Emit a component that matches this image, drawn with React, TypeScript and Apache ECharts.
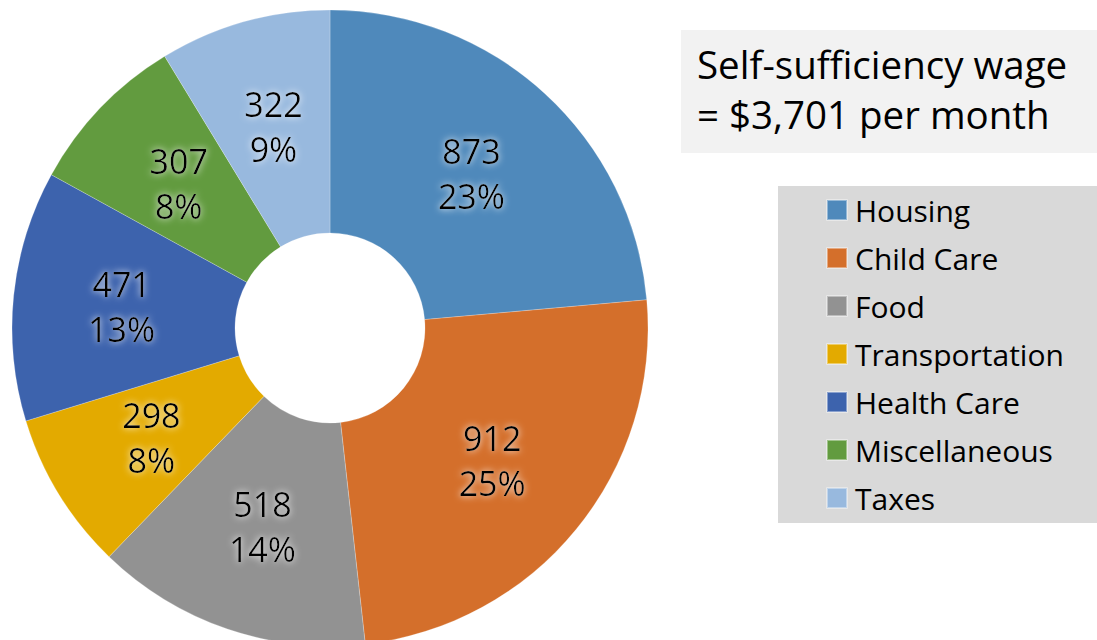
import React, { useEffect, useRef } from "react";
import * as echarts from "echarts";

const categories = ["Housing", "Child Care", "Food", "Transportation", "Health Care", "Miscellaneous", "Taxes"];
const values = [873, 912, 518, 298, 471, 307, 322];
const colors = ["#4f89bb", "#d46f2b", "#929292", "#e3aa00", "#3d63ad", "#629b3f", "#98b9de"];
const titleLines = ["Self-sufficiency wage", "= $3,701 per month"];

const FONT = "Open Sans";

export default function App() {
  const ref = useRef<HTMLDivElement>(null);
  useEffect(() => {
    if (!ref.current) return;
    const chart = echarts.init(ref.current, undefined, { renderer: "svg" });
    chart.setOption({
      animation: false,
      color: colors,
      graphic: [
        { type: "rect", left: 681, top: 30, shape: { width: 416, height: 123 }, style: { fill: "#f2f2f2" }, z: -1 },
        { type: "rect", left: 778, top: 186, shape: { width: 319, height: 337 }, style: { fill: "#d9d9d9" }, z: -1 },
      ],
      title: {
        text: titleLines.join("\n"),
        left: 697,
        top: 39,
        padding: 0,
        textStyle: { fontFamily: FONT, fontSize: 38.5, fontWeight: "normal", color: "#000", lineHeight: 50 },
      },
      legend: {
        orient: "vertical",
        left: 826,
        top: 195,
        padding: 0,
        itemWidth: 20,
        itemHeight: 20,
        itemGap: 18,
        icon: "rect",
        data: categories,
        textStyle: { fontFamily: FONT, fontSize: 30, color: "#000", padding: [0, 0, 0, 3] },
      },
      series: [
        {
          type: "pie",
          center: [330, 328],
          radius: [95, 318],
          startAngle: 90,
          clockwise: true,
          percentPrecision: 0,
          avoidLabelOverlap: false,
          itemStyle: { borderColor: "rgba(255,255,255,0.4)", borderWidth: 0.6 },
          label: {
            show: true,
            position: "inside",
            formatter: "{c}\n{d}%",
            fontFamily: FONT,
            fontSize: 34,
            lineHeight: 45,
            color: "#000",
            textShadowColor: "rgba(255,255,255,0.95)",
            textShadowBlur: 7,
          },
          labelLine: { show: false },
          emphasis: { disabled: true },
          data: categories.map((name, i) => ({ name, value: values[i] })),
        },
      ],
    });
    return () => chart.dispose();
  }, []);
  return <div ref={ref} style={{ position: "absolute", left: 0, top: 0, width: 1097, height: 640 }} />;
}
